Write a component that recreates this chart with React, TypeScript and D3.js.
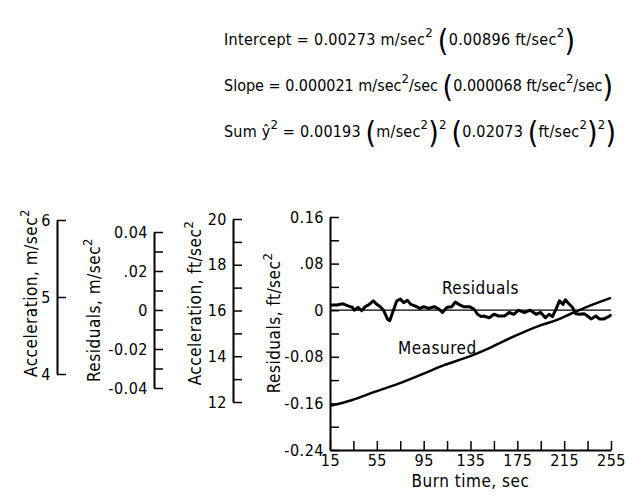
import React, { useEffect, useRef } from "react";
import * as d3 from "d3";

// burn time, sec (x for the residual trace)
const residualTime = [
  15, 21, 26, 31, 34, 36, 39, 42, 45, 48, 52, 55, 58, 61, 64, 66, 69, 72, 75,
  78, 81, 84, 88, 92, 95, 99, 104, 108, 111, 115, 119, 122, 125, 129, 134, 138,
  141, 144, 146, 151, 155, 159, 164, 168, 172, 176, 181, 186, 191, 195, 199,
  202, 205, 208, 211, 214, 216, 219, 222, 225, 228, 232, 235, 238, 242, 245,
  249, 254, 255,
];
// residuals, ft/sec^2
const residualValue = [
  0.009, 0.009, 0.011, 0.007, 0.005, 0.0, 0.005, -0.001, 0.006, 0.009, 0.016,
  0.01, 0.006, -0.001, -0.015, -0.018, -0.001, 0.016, 0.019, 0.013, 0.017,
  0.01, 0.007, 0.003, 0.006, 0.003, 0.006, 0.002, -0.004, 0.005, 0.006, 0.014,
  0.01, 0.006, 0.006, 0.002, -0.007, -0.011, -0.01, -0.013, -0.007, -0.01,
  -0.01, -0.004, -0.007, 0.0, -0.004, 0.0, -0.007, -0.004, -0.013, -0.007,
  -0.011, 0.002, 0.016, 0.01, 0.018, 0.011, 0.005, -0.006, -0.007, -0.006,
  -0.01, -0.015, -0.01, -0.015, -0.015, -0.01, -0.007,
];

// measured acceleration, ft/sec^2
const measuredTime = [15, 34, 53, 73, 94, 113, 133, 153, 173, 193, 209, 222, 234, 255];
const measuredAccel = [
  11.83, 12.09, 12.44, 12.79, 13.22, 13.62, 13.97, 14.4, 14.89, 15.32, 15.59,
  15.89, 16.15, 16.55,
];

const timeTicks = d3.range(15, 256, 20);
const timeLabels = ["15", "55", "95", "135", "175", "215", "255"];
const resFtTicks = [0.16, 0.12, 0.08, 0.04, 0, -0.04, -0.08, -0.12, -0.16, -0.2, -0.24];
const resFtLabels: Record<string, string> = {
  "0.16": "0.16", "0.08": ".08", "0": "0", "-0.08": "-0.08", "-0.16": "-0.16", "-0.24": "-0.24",
};
const accFtTicks = d3.range(12, 21, 1);
const accFtLabels = ["12", "14", "16", "18", "20"];
const resMTicks = [0.04, 0.03, 0.02, 0.01, 0, -0.01, -0.02, -0.03, -0.04];
const resMLabels: Record<string, string> = {
  "0.04": "0.04", "0.02": ".02", "0": "0", "-0.02": "-0.02", "-0.04": "-0.04",
};
const accMTicks = [4, 5, 6];

// formula lines: [text, kind] n = normal, s = superscript, p = big paren
const formulaLines: [string, string][][] = [
  [["Intercept = 0.00273 m/sec", "n"], ["2", "s"], [" ", "n"], ["(", "p"], ["0.00896 ft/sec", "n"], ["2", "s"], [")", "p"]],
  [["Slope = 0.000021 m/sec", "n"], ["2", "s"], ["/sec ", "n"], ["(", "p"], ["0.000068 ft/sec", "n"], ["2", "s"], ["/sec", "n"], [")", "p"]],
  [["Sum ŷ", "n"], ["2", "s"], [" = 0.00193 ", "n"], ["(", "p"], ["m/sec", "n"], ["2", "s"], [")", "p"], ["2", "s"], [" ", "n"], ["(", "p"], ["0.02073 ", "n"], ["(", "p"], ["ft/sec", "n"], ["2", "s"], [")", "p"], ["2", "s"], [")", "p"]],
];

const FONT = "'Liberation Sans Narrow', 'DejaVu Sans Condensed', 'Arial Narrow', sans-serif";

const Chart = () => {
  const ref = useRef<SVGSVGElement>(null);

  useEffect(() => {
    const width = 626;
    const height = 497;

    const x = d3.scaleLinear().domain([15, 255]).range([330, 611]);
    const yRes = d3.scaleLinear().domain([-0.24, 0.16]).range([450, 217]);
    const yAccFt = d3.scaleLinear().domain([12, 20]).range([402, 219]);
    const yResM = d3.scaleLinear().domain([-0.04, 0.04]).range([388, 232]);
    const yAccM = d3.scaleLinear().domain([4, 6]).range([374, 220]);

    const svg = d3
      .select(ref.current)
      .attr("width", width)
      .attr("height", height)
      .attr("viewBox", [0, 0, width, height])
      .style("font-family", FONT)
      .style("font-stretch", "condensed");

    svg.selectAll("*").remove();

    const key = (d: number) => String(+d.toFixed(2));

    // vertical axis helper: ticks pointing right, labels on the left
    const leftAxis = (
      xPos: number,
      scale: d3.ScaleLinear<number, number>,
      ticks: number[],
      fmt: (d: number) => string
    ) => {
      svg
        .append("g")
        .attr("transform", `translate(${xPos},0)`)
        .call(
          d3
            .axisLeft(scale)
            .tickValues(ticks)
            .tickSizeInner(-9)
            .tickSizeOuter(0)
            .tickPadding(6)
            .tickFormat((d) => fmt(+d))
        )
        .call((g) => g.select(".domain").attr("stroke-width", 2))
        .call((g) => g.selectAll(".tick line").attr("stroke-width", 1.5))
        .call((g) =>
          g
            .selectAll(".tick text")
            .attr("font-size", 16)
            .attr("font-family", FONT)
            .attr("letter-spacing", 0.5)
            .attr("fill", "#000")
        );
    };

    leftAxis(57, yAccM, accMTicks, (d) => String(d));
    leftAxis(154, yResM, resMTicks, (d) => resMLabels[key(d)] ?? "");
    leftAxis(233, yAccFt, accFtTicks, (d) =>
      accFtLabels.includes(String(d)) ? String(d) : ""
    );
    leftAxis(330, yRes, resFtTicks, (d) => resFtLabels[key(d)] ?? "");

    // x axis, ticks pointing up
    svg
      .append("g")
      .attr("transform", `translate(0,${yRes(-0.24)})`)
      .call(
        d3
          .axisBottom(x)
          .tickValues(timeTicks)
          .tickSizeInner(-9)
          .tickSizeOuter(0)
          .tickPadding(5)
          .tickFormat((d) => (timeLabels.includes(String(d)) ? String(d) : ""))
      )
      .call((g) => g.select(".domain").attr("stroke-width", 2))
      .call((g) => g.selectAll(".tick line").attr("stroke-width", 1.5))
      .call((g) =>
        g
          .selectAll(".tick text")
          .attr("font-size", 16)
          .attr("font-family", FONT)
          .attr("letter-spacing", 0.5)
          .attr("fill", "#000")
      );

    // zero reference line
    svg
      .append("line")
      .attr("x1", x(15))
      .attr("x2", x(255))
      .attr("y1", yRes(0))
      .attr("y2", yRes(0))
      .attr("stroke", "#000")
      .attr("stroke-width", 1.2);

    // measured acceleration
    const measured = measuredTime.map((t, i) => [t, measuredAccel[i]]);
    svg
      .append("path")
      .datum(measured)
      .attr("fill", "none")
      .attr("stroke", "#000")
      .attr("stroke-width", 2.5)
      .attr(
        "d",
        d3
          .line<number[]>()
          .x((d) => x(d[0]))
          .y((d) => yAccFt(d[1]))
          .curve(d3.curveMonotoneX)
      );

    // residuals
    const residuals = residualTime.map((t, i) => [t, residualValue[i]]);
    svg
      .append("path")
      .datum(residuals)
      .attr("fill", "none")
      .attr("stroke", "#000")
      .attr("stroke-width", 3)
      .attr("stroke-linejoin", "round")
      .attr(
        "d",
        d3
          .line<number[]>()
          .x((d) => x(d[0]))
          .y((d) => yRes(d[1]))
      );

    // curve labels
    svg
      .append("text")
      .attr("x", 442)
      .attr("y", 294)
      .attr("font-size", 17)
      .attr("letter-spacing", 0.5)
      .text("Residuals");
    svg
      .append("text")
      .attr("x", 398)
      .attr("y", 354)
      .attr("font-size", 17)
      .attr("letter-spacing", 0.5)
      .text("Measured");

    // rotated axis titles
    const title = (cx: number, cy: number, main: string) => {
      const t = svg
        .append("text")
        .attr("transform", `translate(${cx},${cy}) rotate(-90)`)
        .attr("text-anchor", "middle")
        .attr("font-size", 17)
        .attr("letter-spacing", 0.5);
      t.append("tspan").text(main);
      t.append("tspan").attr("dy", -8).attr("font-size", 13).text("2");
    };
    title(37, 293, "Acceleration,  m/sec");
    title(100, 310, "Residuals,  m/sec");
    title(201, 303, "Acceleration,  ft/sec");
    title(280, 323, "Residuals,  ft/sec");

    svg
      .append("text")
      .attr("x", x(135))
      .attr("y", 487)
      .attr("text-anchor", "middle")
      .attr("font-size", 17)
      .attr("letter-spacing", 0.5)
      .text("Burn time, sec");

    // regression formulas
    const baselines = [45, 91, 137];
    const lineWidths = [351, 389, 392];
    formulaLines.forEach((segs, li) => {
      const t = svg
        .append("text")
        .attr("x", 224)
        .attr("y", baselines[li])
        .attr("font-size", 16)
        .attr("textLength", lineWidths[li])
        .attr("lengthAdjust", "spacing");
      let off = 0;
      segs.forEach(([s, kind]) => {
        const target = kind === "s" ? -8 : kind === "p" ? 6 : 0;
        t.append("tspan")
          .attr("dy", target - off)
          .attr("font-size", kind === "s" ? 13 : kind === "p" ? 30 : 16)
          .attr("font-weight", kind === "p" ? 300 : null)
          .text(s);
        off = target;
      });
    });
  }, []);

  return (
    <svg
      ref={ref}
      style={{ position: "absolute", left: 0, top: 0, background: "#fff" }}
    ></svg>
  );
};

export default function App() {
  return <Chart />;
}
